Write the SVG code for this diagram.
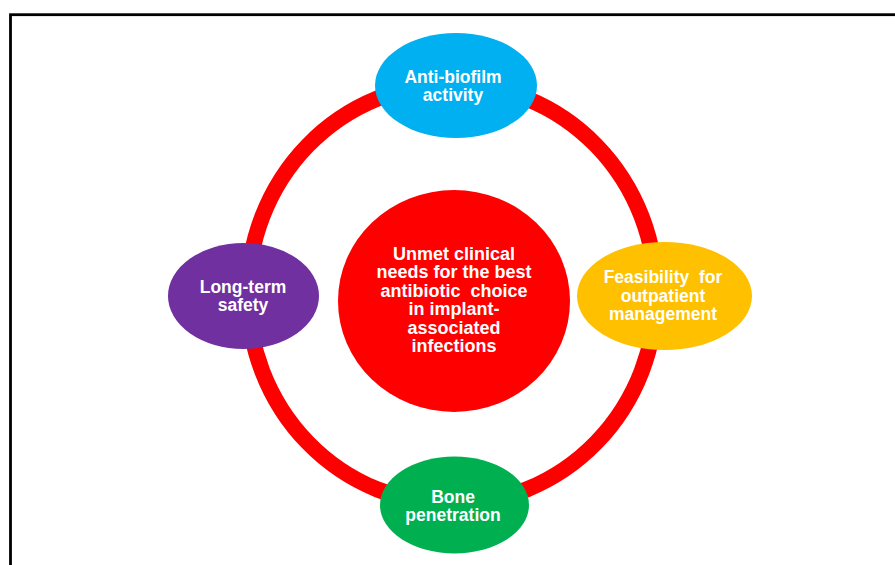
<svg xmlns="http://www.w3.org/2000/svg" width="895" height="565" viewBox="0 0 895 565">
<style>
text{font-family:"Liberation Sans",Arial,sans-serif;font-weight:bold;fill:#fff;text-anchor:middle}
.p{font-size:17.5px}
.c{font-size:18px}
</style>
<rect x="0" y="0" width="895" height="565" fill="#fff"/>
<rect x="10.5" y="14.7" width="900" height="570" fill="none" stroke="#000" stroke-width="2.8"/>
<g id="connectors">
<ellipse cx="452" cy="294" rx="204" ry="210" fill="none" stroke="#FF0000" stroke-width="16"/>
</g>
<g id="center">
<ellipse cx="454" cy="301" rx="116" ry="111" fill="#FF0000"/>
<text class="c" x="454" y="260">Unmet clinical</text>
<text class="c" x="454" y="278.4">needs for the best</text>
<text class="c" x="454" y="296.8" xml:space="preserve">antibiotic  choice</text>
<text class="c" x="454" y="315.2">in implant-</text>
<text class="c" x="454" y="333.6">associated</text>
<text class="c" x="454" y="352">infections</text>
</g>
<g id="anti-biofilm">
<ellipse cx="456" cy="85.5" rx="81" ry="52.5" fill="#00B0F0"/>
<text class="p" x="453" y="83">Anti-biofilm</text>
<text class="p" x="453" y="101.3">activity</text>
</g>
<g id="long-term">
<ellipse cx="243.5" cy="296" rx="75.5" ry="53" fill="#7030A0"/>
<text class="p" x="243" y="292.7">Long-term</text>
<text class="p" x="243" y="310.8">safety</text>
</g>
<g id="feasibility">
<ellipse cx="664.5" cy="296" rx="87.5" ry="54" fill="#FFC000"/>
<text class="p" x="663" y="283.3" xml:space="preserve">Feasibility  for</text>
<text class="p" x="663" y="301.7">outpatient</text>
<text class="p" x="663" y="320">management</text>
</g>
<g id="bone">
<ellipse cx="454.5" cy="505" rx="74.5" ry="48.5" fill="#00B050"/>
<text class="p" x="453" y="502.7">Bone</text>
<text class="p" x="453" y="521">penetration</text>
</g>
</svg>
